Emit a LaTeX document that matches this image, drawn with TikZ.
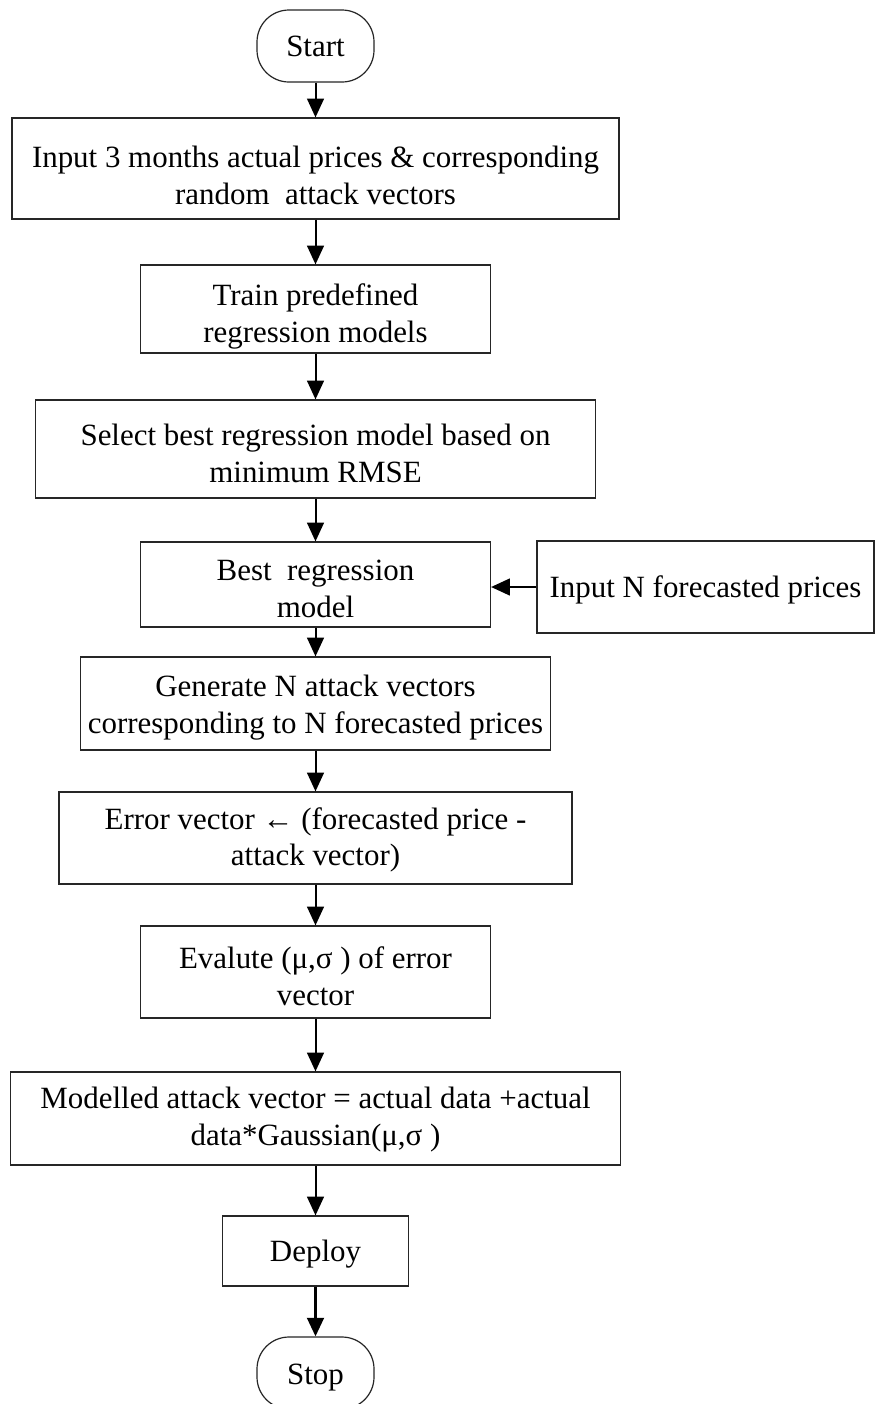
\documentclass[tikz,border=0pt]{standalone}
\usepackage{fontspec}
\setmainfont{Liberation Serif}
\usetikzlibrary{arrows.meta}
\newcommand{\lowr}[1]{\rule{0pt}{#1}}
\begin{document}
\begin{tikzpicture}[x=0.75pt,y=-0.75pt,
  proc/.style={draw=black!85, line width=0.9pt, rectangle, align=center, inner sep=0pt,
    font=\fontsize{23.2}{27.5}\selectfont},
  term/.style={proc, rounded corners=24pt},
  flow/.style={line width=1.5pt, -{Triangle[length=14pt,width=12.5pt]}},
  flowthick/.style={line width=2.2pt, -{Triangle[length=14pt,width=12.5pt]}}]
\clip (0,0) rectangle (875,1404);
\fill[white] (0,0) rectangle (875,1404);

\node[term, minimum width=87.75pt, minimum height=54pt] (start) at (315.5,46) {Start};
\node[proc, minimum width=455.25pt, minimum height=75.75pt] (b1) at (315.5,168.5)
  {\lowr{26pt}Input 3 months actual prices \& corresponding\\random\ \ attack vectors};
\node[proc, minimum width=262.5pt, minimum height=66pt] (b2) at (315.5,309)
  {\lowr{27pt}Train predefined\\regression models};
\node[proc, minimum width=420pt, minimum height=73.5pt] (b3) at (315.5,449)
  {\lowr{23pt}Select best regression model based on\\minimum RMSE};
\node[proc, minimum width=262.5pt, minimum height=63.75pt] (b4) at (315.5,584.5)
  {\lowr{22pt}Best\ \ regression\\model};
\node[proc, minimum width=252.75pt, minimum height=69pt] (inN) at (705.5,587)
  {\lowr{21pt}Input N forecasted prices};
\node[proc, minimum width=352.5pt, minimum height=69.75pt] (b5) at (315.5,703.5)
  {\lowr{22pt}Generate N attack vectors\\corresponding to N forecasted prices};
\node[proc, minimum width=384.75pt, minimum height=69pt] (b6) at (315.5,838)
  {\lowr{19pt}Error vector ← (forecasted price -\\attack vector)};
\node[proc, minimum width=262.5pt, minimum height=69pt] (b7) at (315.5,972)
  {\lowr{23pt}Evalute (μ,σ ) of error\\vector};
\node[proc, minimum width=457.5pt, minimum height=69.75pt] (b8) at (315.5,1118.5)
  {\lowr{18pt}Modelled attack vector = actual data +actual\\data*Gaussian(μ,σ )};
\node[proc, minimum width=139.5pt, minimum height=52.5pt] (dep) at (315.5,1251) {\lowr{20pt}Deploy};
\node[term, minimum width=87.75pt, minimum height=54pt] (stop) at (315.5,1373) {\lowr{22pt}Stop};

\draw[flow] (start) -- (b1);
\draw[flow] (b1) -- (b2);
\draw[flow] (b2) -- (b3);
\draw[flow] (b3) -- (b4);
\draw[flow] (b4) -- (b5);
\draw[flow] (b5) -- (b6);
\draw[flow] (b6) -- (b7);
\draw[flow] (b7) -- (b8);
\draw[flow] (b8) -- (dep);
\draw[flowthick] (dep) -- (stop);
\draw[flow] (inN.west) -- (inN.west -| b4.east);
\end{tikzpicture}
\end{document}
